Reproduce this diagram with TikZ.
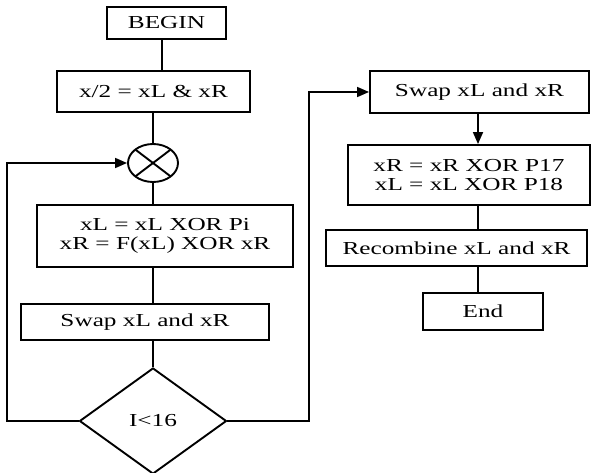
\documentclass[tikz,border=0pt]{standalone}
\usepackage{fontspec}
\setmainfont{Liberation Serif}[FakeStretch=1.38]
\usetikzlibrary{shapes.geometric,arrows.meta}
\begin{document}
\begin{tikzpicture}[x=1pt,y=-1pt,
  every node/.style={font=\fontsize{18.3}{19}\selectfont},
  stepbox/.style={draw,line width=1.9pt,rectangle,inner sep=0pt,align=center},
  conn/.style={line width=1.9pt},
  arr/.style={line width=1.7pt,-{Triangle[length=12pt,width=10pt]}}]
\useasboundingbox (0,0) rectangle (591,473);
\node[stepbox,minimum width=119pt,minimum height=32pt] (begin) at (166.5,23) {BEGIN};
\node[stepbox,minimum width=193pt,minimum height=41pt] (split) at (153.5,91.5) {x/2 = xL \& xR};
\node[draw,line width=1.9pt,ellipse,inner sep=0pt,minimum width=50pt,minimum height=38pt,
  path picture={\draw[line width=1.9pt] (path picture bounding box.north west) -- (path picture bounding box.south east)
  (path picture bounding box.north east) -- (path picture bounding box.south west);}] (xor) at (153,163) {};
\node[stepbox,minimum width=256pt,minimum height=62pt] (round) at (165,236) {xL = xL XOR Pi\\xR = F(xL) XOR xR};
\node[stepbox,minimum width=248pt,minimum height=36pt] (swap) at (145,322) {Swap xL and xR};
\node[draw,line width=1.9pt,diamond,inner sep=0pt,minimum width=147pt,minimum height=106pt] (cond) at (153,421) {I<16};
\node[stepbox,minimum width=219pt,minimum height=42pt] (swap2) at (479.5,92) {Swap xL and xR};
\node[stepbox,minimum width=242pt,minimum height=60pt] (post) at (469,175) {xR = xR XOR P17\\xL = xL XOR P18};
\node[stepbox,minimum width=261pt,minimum height=36pt] (recomb) at (456.5,248) {Recombine xL and xR};
\node[stepbox,minimum width=120pt,minimum height=37pt] (end) at (483,311.5) {End};

\draw[conn] (162,0 |- begin.south) -- (162,0 |- split.north);
\draw[conn] (split.south -| xor.north) -- (xor.north);
\draw[conn] (xor.south) -- (xor.south |- round.north);
\draw[conn] (round.south -| xor.south) -- (swap.north -| xor.south);
\draw[conn] (swap.south -| cond.north) -- (cond.north);
\coordinate (lft) at (7,0);
\coordinate (rgt) at (309,0);
\draw[arr] (cond.west) -- (cond.west -| lft) |- (xor.west);
\draw[arr] (cond.east) -- (cond.east -| rgt) |- (swap2.west);
\draw[arr] (478,0 |- swap2.south) -- (478,0 |- post.north);
\draw[conn] (478,0 |- post.south) -- (478,0 |- recomb.north);
\draw[conn] (478,0 |- recomb.south) -- (478,0 |- end.north);
\end{tikzpicture}
\end{document}
